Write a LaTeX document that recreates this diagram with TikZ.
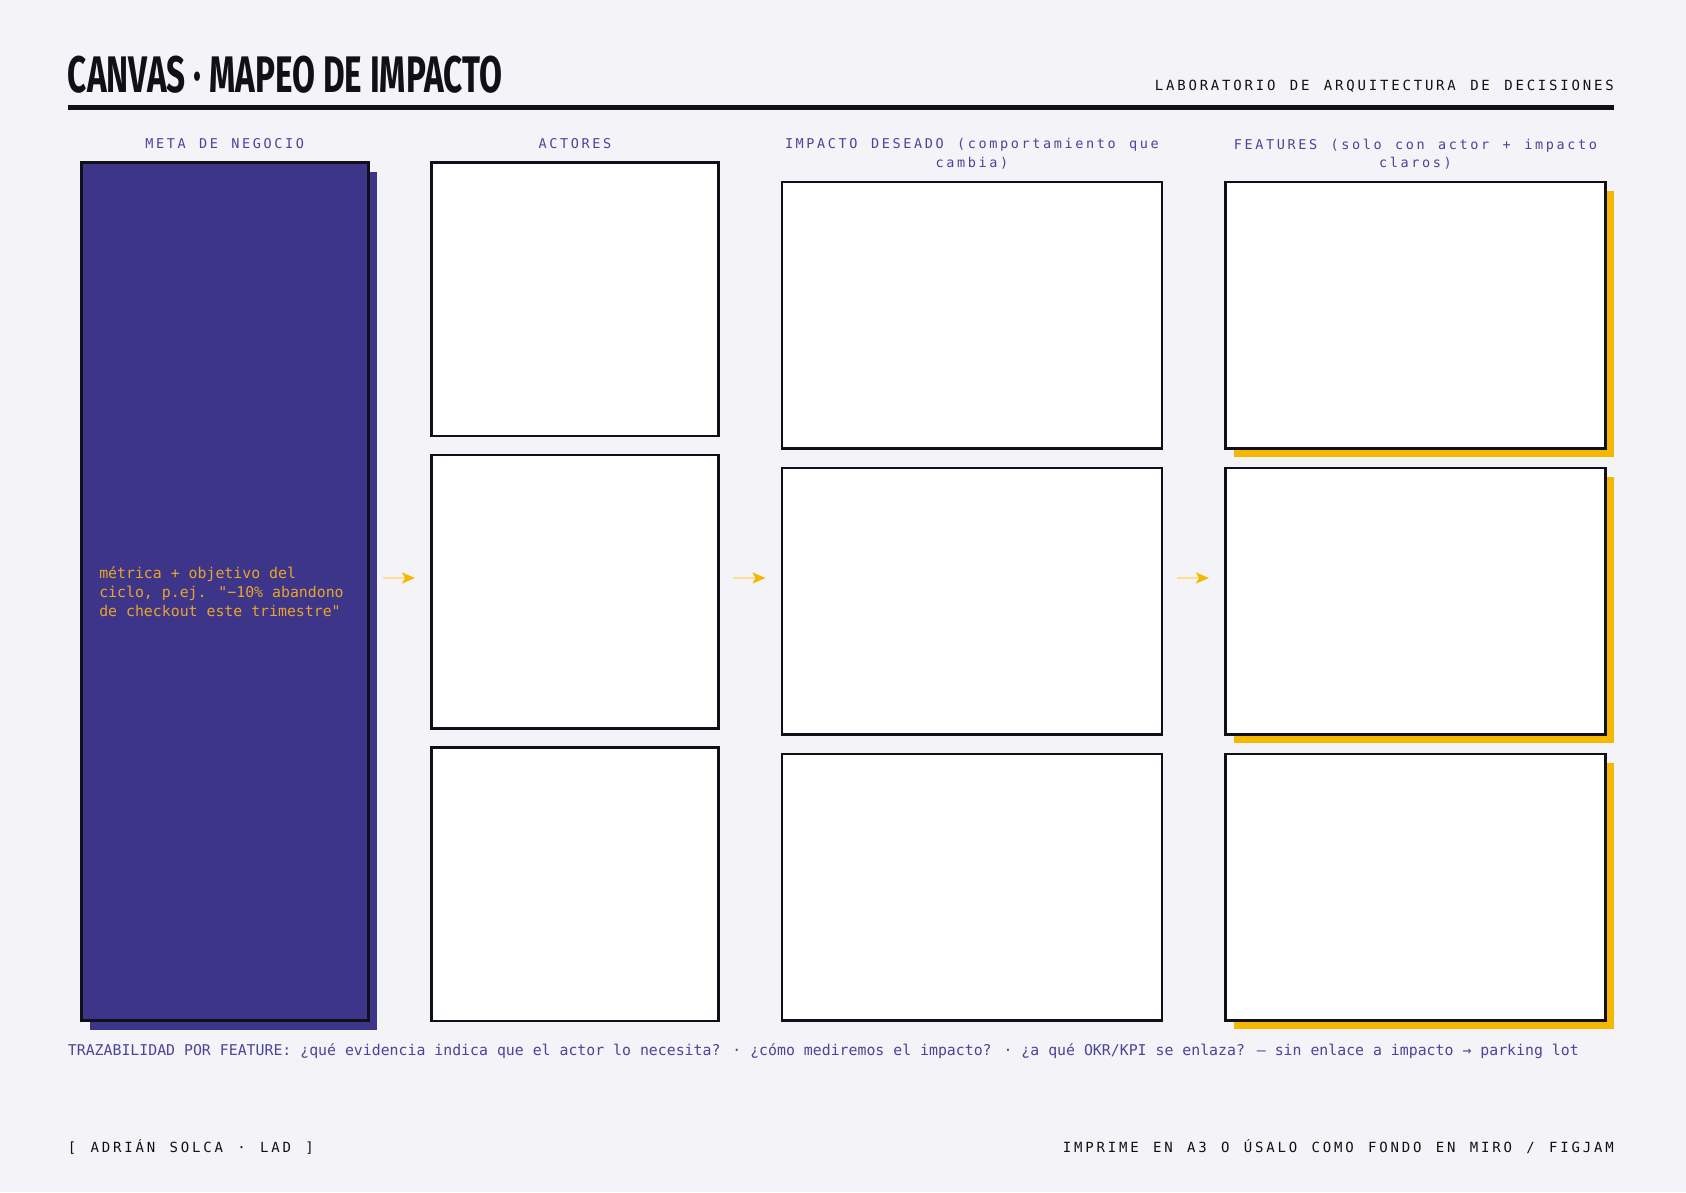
\documentclass[tikz,border=0pt]{standalone}
\usepackage{fontspec,graphicx}
\usetikzlibrary{positioning,arrows.meta,shadows}

\setmainfont{Fira Sans}
\newfontfamily\labelfont[LetterSpace=19.4,WordSpace=1.25]{DejaVu Sans Mono}
\newfontfamily\widefont[LetterSpace=20,WordSpace=1.28]{DejaVu Sans Mono}
\newfontfamily\notefont{DejaVu Sans Mono}

\definecolor{paper}{HTML}{F4F3F8}
\definecolor{ink}{HTML}{111018}
\definecolor{violet}{HTML}{3D3589}
\definecolor{lilac}{HTML}{4B4499}
\definecolor{gold}{HTML}{F5B800}
\definecolor{amber}{HTML}{E8A52A}

\tikzset{
    cardbox/.style = {draw = ink, line width = 2.7pt, fill = white, inner sep = 0pt, anchor = north west},
    actorbox/.style = {cardbox, minimum width = 287pt, minimum height = 273.5pt},
    impactbox/.style = {cardbox, minimum width = 380pt, minimum height = 266.5pt},
    featbox/.style = {impactbox, drop shadow = {shadow xshift = 9pt, shadow yshift = -9pt, fill = gold, opacity = 1}},
    goalbox/.style = {cardbox, fill = violet, line width = 3.2pt, minimum width = 287pt, minimum height = 858pt,
        drop shadow = {shadow xshift = 9pt, shadow yshift = -9pt, fill = violet, opacity = 1}},
    collabel/.style = {anchor = north, inner sep = 0pt, align = center, text = lilac,
        font = \labelfont\fontsize{13.5}{18.3}\selectfont},
    flow/.style = {gold!45, line width = 2pt, shorten < = 13.5pt, shorten > = 15pt,
        -{Stealth[length = 13pt, width = 11pt, inset = 3pt, color = gold]}}
}

\begin{document}
\begin{tikzpicture}[x = 1pt, y = -1pt]
    \fill [paper] (0,0) rectangle (1686,1192);
    \useasboundingbox (0,0) rectangle (1686,1192);

    % header
    \node [anchor = base west, inner sep = 0pt, text = ink] (title) at (67.7,92.5)
        {\resizebox{434pt}{36.5pt}{\bfseries CANVAS · MAPEO DE IMPACTO}};
    \node [anchor = base east, inner sep = 0pt, text = ink, font = \widefont\fontsize{14}{16}\selectfont] (lab) at (1614,90.3)
        {LABORATORIO DE ARQUITECTURA DE DECISIONES};
    \draw [ink, line width = 5pt] (67.7,107.5) -- (1614,107.5);

    % meta de negocio
    \node [goalbox] (meta) at (79.6,161) {};
    \node [anchor = west, inner sep = 0pt, align = left, text = amber, font = \notefont\fontsize{14.85}{19.4}\selectfont]
        (metatext) at ([xshift = 19.5pt]meta.west)
        {métrica + objetivo del\\ciclo, p.ej. "−10\% abandono\\de checkout este trimestre"};

    % actores
    \node [actorbox] (act1) at (430,161) {};
    \node [actorbox] (act2) at (430,453.5) {};
    \node [actorbox] (act3) at (430,746) {};

    % impacto deseado
    \node [impactbox] (imp1) at (780.5,180.5) {};
    \node [impactbox] (imp2) at (780.5,466.5) {};
    \node [impactbox] (imp3) at (780.5,752.5) {};

    % features
    \node [featbox] (feat1) at (1224,180.5) {};
    \node [featbox] (feat2) at (1224,466.5) {};
    \node [featbox] (feat3) at (1224,752.5) {};

    % column labels
    \node [collabel] (lmeta) at (meta.north |- 0,138.5) {META DE NEGOCIO};
    \node [collabel] (lact) at (act1.north |- 0,138.5) {ACTORES};
    \node [collabel] (limp) at (imp1.north |- 0,138.5) {IMPACTO DESEADO (comportamiento que\\cambia)};
    \node [collabel] (lfeat) at (feat1.north |- 0,138.5) {FEATURES (solo con actor + impacto\\claros)};

    % flow arrows
    \coordinate (row) at (0,578);
    \draw [flow] (meta.east |- row) -- (act2.west |- row);
    \draw [flow] (act2.east |- row) -- (imp2.west |- row);
    \draw [flow] (imp2.east |- row) -- (feat2.west |- row);

    % footer
    \node [anchor = base west, inner sep = 0pt, text = lilac, font = \notefont\fontsize{14.85}{16}\selectfont] (trace) at (67.7,1055)
        {TRAZABILIDAD POR FEATURE: ¿qué evidencia indica que el actor lo necesita? · ¿cómo mediremos el impacto? · ¿a qué OKR/KPI se enlaza? — sin enlace a impacto → parking lot};
    \node [anchor = base west, inner sep = 0pt, text = ink, font = \widefont\fontsize{14}{16}\selectfont] (sign) at (67.7,1152)
        {[ ADRIÁN SOLCA · LAD ]};
    \node [anchor = base east, inner sep = 0pt, text = ink, font = \widefont\fontsize{14}{16}\selectfont] (hint) at (1614,1152)
        {IMPRIME EN A3 O ÚSALO COMO FONDO EN MIRO / FIGJAM};
\end{tikzpicture}
\end{document}
